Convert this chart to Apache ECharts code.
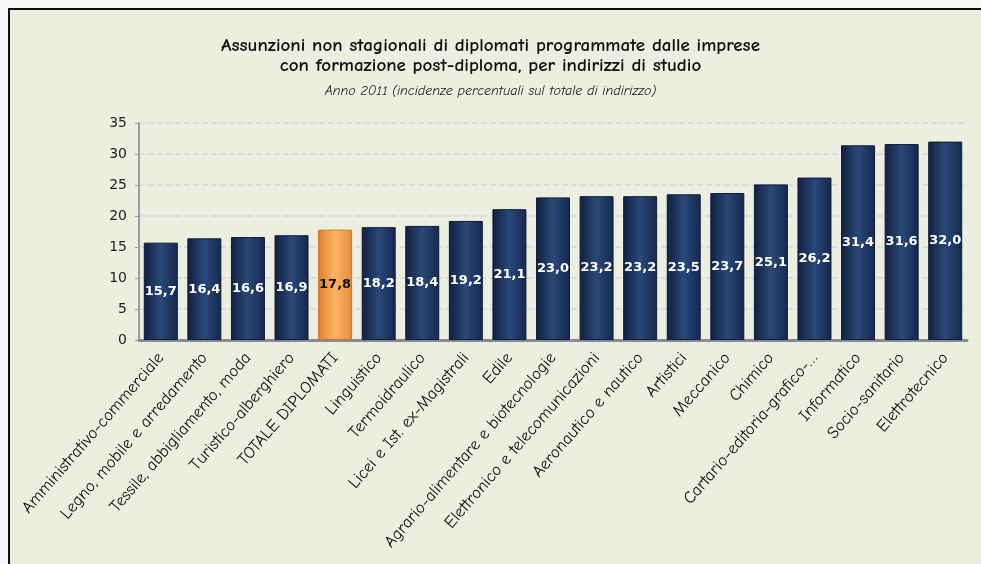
<!DOCTYPE html>
<html>
<head>
<meta charset="utf-8">
<script src="https://cdn.jsdelivr.net/npm/echarts@6/dist/echarts.min.js"></script>
<style>
  html, body { margin: 0; padding: 0; background: #f7f7f5; overflow: hidden; }
  #frame {
    position: absolute; left: 8px; top: 8px; width: 1000px; height: 600px;
    background: #eceedf; border: 2px solid #111;
  }
  #chart { position: absolute; left: 0; top: 0; width: 981px; height: 564px; }
</style>
</head>
<body>
<div id="frame"></div>
<div id="chart"></div>
<script>
const categories = [
  "Amministrativo-commerciale",
  "Legno, mobile e arredamento",
  "Tessile, abbigliamento, moda",
  "Turistico-alberghiero",
  "TOTALE DIPLOMATI",
  "Linguistico",
  "Termoidraulico",
  "Licei e Ist. ex-Magistrali",
  "Edile",
  "Agrario-alimentare e biotecnologie",
  "Elettronico e telecomunicazioni",
  "Aeronautico e nautico",
  "Artistici",
  "Meccanico",
  "Chimico",
  "Cartario-editoria-grafico-…",
  "Informatico",
  "Socio-sanitario",
  "Elettrotecnico"
];
const values = [15.7, 16.4, 16.6, 16.9, 17.8, 18.2, 18.4, 19.2, 21.1, 23.0, 23.2, 23.2, 23.5, 23.7, 25.1, 26.2, 31.4, 31.6, 32.0];
const highlight = "TOTALE DIPLOMATI";
const titleLines = [
  "Assunzioni non stagionali di diplomati programmate dalle imprese",
  "con formazione post-diploma, per indirizzi di studio"
];
const subtitle = "Anno 2011 (incidenze percentuali sul totale di indirizzo)";

const comic = "'Comic Sans MS', 'Comic Neue', 'DejaVu Sans', sans-serif";

const navy = new echarts.graphic.LinearGradient(0, 0, 1, 0, [
  { offset: 0, color: "#10203f" },
  { offset: 0.5, color: "#2a4878" },
  { offset: 1, color: "#142850" }
]);
const orange = new echarts.graphic.LinearGradient(0, 0, 1, 0, [
  { offset: 0, color: "#d9822f" },
  { offset: 0.5, color: "#ffb264" },
  { offset: 1, color: "#e28c3a" }
]);

const chart = echarts.init(document.getElementById("chart"));

const titleStyle = { fontFamily: comic, fontSize: 19, fontWeight: "bold", color: "#111" };

chart.setOption({
  backgroundColor: "transparent",
  title: [
    { text: titleLines[0], left: "center", top: 31, textStyle: titleStyle },
    { text: titleLines[1], left: "center", top: 51, textStyle: titleStyle },
    { text: subtitle, left: "center", top: 79,
      textStyle: { fontFamily: comic, fontSize: 14, fontStyle: "italic", fontWeight: "normal", color: "#222" } }
  ],
  grid: { left: 139, right: 14, top: 123, bottom: 224, containLabel: false },
  xAxis: {
    type: "category",
    data: categories,
    axisLine: { show: true, lineStyle: { color: "#858b94", width: 3 } },
    axisTick: { show: false },
    axisLabel: {
      rotate: 49,
      interval: 0,
      margin: 15,
      fontFamily: comic,
      fontSize: 17,
      color: "#111"
    }
  },
  yAxis: {
    type: "value",
    min: 0,
    max: 35,
    interval: 5,
    axisLine: { show: true, lineStyle: { color: "#9a9ea4", width: 2 } },
    axisTick: { show: true, length: 4, lineStyle: { color: "#9a9ea4" } },
    axisLabel: { fontFamily: "'DejaVu Sans', sans-serif", fontSize: 14, color: "#222", margin: 12 },
    splitLine: { show: true, lineStyle: { color: "#dadde2", width: 2, type: [6, 3] } }
  },
  series: [{
    type: "bar",
    data: values.map((v, i) => ({
      value: v,
      itemStyle: {
        color: categories[i] === highlight ? orange : navy,
        borderColor: categories[i] === highlight ? "#c9772c" : "#0e1c38",
        borderWidth: 1
      },
      label: { color: categories[i] === highlight ? "#111" : "#fff" }
    })),
    barCategoryGap: "22%",
    label: {
      show: true,
      position: "inside",
      fontFamily: "'DejaVu Sans', sans-serif",
      fontSize: 13,
      fontWeight: "bold",
      formatter: p => p.value.toFixed(1).replace(".", ",")
    }
  }]
});
</script>
</body>
</html>
